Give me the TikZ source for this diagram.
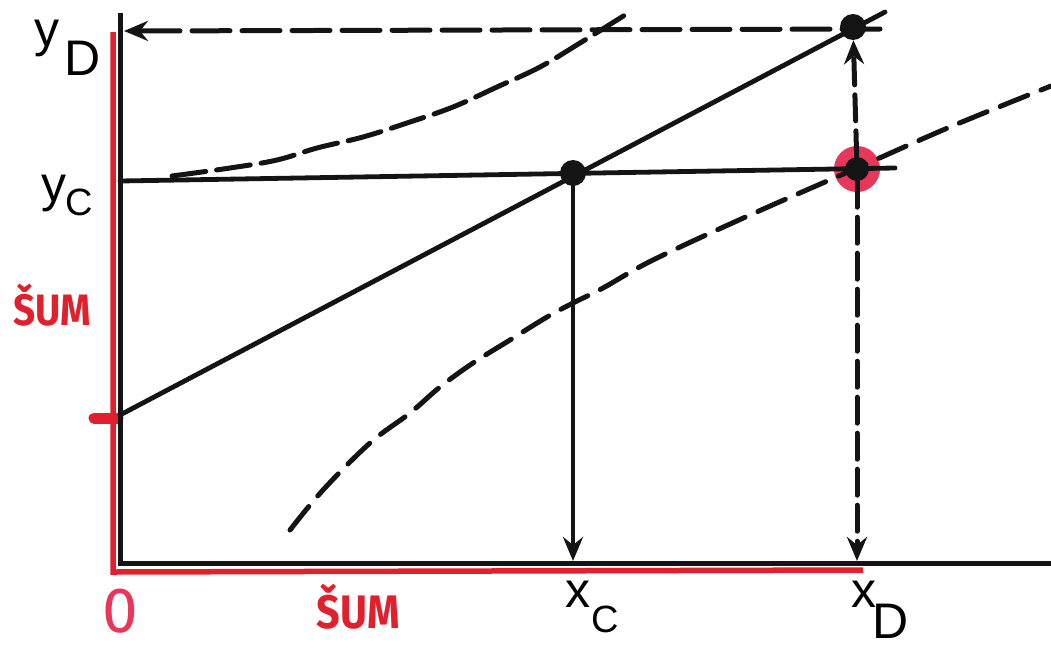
\documentclass[tikz,border=0pt]{standalone}
\usepackage{fontspec}
\setmainfont{Liberation Sans}
\newfontfamily\redfont{Fira Sans}
\usetikzlibrary{arrows.meta}
\definecolor{inkred}{HTML}{E0202C}
\definecolor{pinkred}{HTML}{E8375A}
\definecolor{ink}{HTML}{141414}
\tikzset{
  axisline/.style={ink, line width=5pt},
  redline/.style={inkred, line width=5.5pt},
  solidline/.style={ink, line width=4.8pt, line cap=round},
  dashline/.style={ink, line width=5pt, line cap=round, dash pattern=on 30pt off 14pt},
  arrowtip/.style={-{Stealth[length=24pt,width=20pt,inset=8pt]}},
  dot/.style={circle, fill=ink, inner sep=0pt, minimum size=26pt},
  lbl/.style={anchor=base west, inner sep=0pt, font=\fontsize{50}{50}\selectfont},
  sublbl/.style={anchor=base west, inner sep=0pt, font=\fontsize{50}{50}\selectfont},
  subc/.style={anchor=base west, inner sep=0pt, font=\fontsize{38}{38}\selectfont},
  redlbl/.style={inner sep=0pt, text=inkred, font=\redfont\bfseries\fontsize{44}{44}\selectfont, xscale=0.88}
}
\begin{document}
\begin{tikzpicture}[x=1pt, y=-1pt]
\useasboundingbox (0,0) rectangle (1051,648);
% coordinates
\coordinate (O) at (120,563);
\coordinate (ytop) at (120,13);
\coordinate (xend) at (1051,563);
\coordinate (rv0) at (113,32);
\coordinate (rv1) at (113,572);
\coordinate (rh1) at (863,570);
\coordinate (tick0) at (94,418);
\coordinate (tick1) at (118,418);
\coordinate (L0) at (120,415);
\coordinate (L1) at (885,12);
\coordinate (yc0) at (120,181);
\coordinate (yc1) at (895,168);
\coordinate (yDa) at (880,29);
\coordinate (yDb) at (124,31);
\coordinate (xC) at (573,561);
\coordinate (xD) at (857,561);
% red axis lines
\draw[redline] (rv0) -- (rv1) -- (rh1);
\draw[inkred, line width=11pt, line cap=round] (tick0) -- (tick1);
% axes
\draw[axisline] (ytop) -- (O) -- (xend);
% red circle
\node[circle, fill=pinkred, inner sep=0pt, minimum size=46pt] (E) at (857,169) {};
% lines
\draw[solidline] (L0) -- (L1);
\draw[solidline] (yc0) -- (yc1);
% dashed curves
\draw[dashline, dash pattern=on 34pt off 11pt] plot[smooth, tension=0.6] coordinates {(172,176) (230,168) (277,160) (317,148) (363,137) (407,123) (453,107) (497,87) (540,67) (580,43) (625,15)};
\draw[dashline] plot[smooth, tension=0.6] coordinates {(290,530) (323,490) (370,443) (410,413) (440,387) (473,363) (510,340) (547,317) (573,303) (603,288) (653,260) (750,215) (857,168) (950,127) (1051,86)};
% dots
\node[dot] (C) at (573,173) {};
\node[dot] (D) at (853,27) {};
\node[dot, minimum size=24pt] (Ec) at (857,169) {};
% arrows
\draw[solidline, arrowtip] (C) -- (xC);
\draw[dashline, dash pattern=on 26pt off 10pt, arrowtip] (Ec) -- (xD);
\draw[dashline, dash pattern=on 26pt off 10pt, arrowtip] (Ec) -- (D);
\draw[dashline, dash pattern=on 38pt off 12pt, arrowtip] (yDa) -- (yDb);
% labels
\node[lbl] (yD) at (34,46) {y};
\node[sublbl] (yDs) at (64,75) {D};
\node[lbl] (yC) at (41,201) {y};
\node[subc] (yCs) at (65,215) {C};
\node[lbl] (xCl) at (565,607) {x};
\node[subc] (xCs) at (591,632) {C};
\node[lbl] (xDl) at (851,607) {x};
\node[sublbl] (xDs) at (872,638) {D};
% red labels
\node[redlbl] (sumy) at (52,305) {ŠUM};
\node[redlbl, font=\redfont\bfseries\fontsize{47}{47}\selectfont] (sumx) at (358,607) {ŠUM};
\node[anchor=base, inner sep=0pt, text=pinkred, font=\redfont\fontsize{64}{64}\selectfont] (zero) at (120,632) {0};
\end{tikzpicture}
\end{document}
